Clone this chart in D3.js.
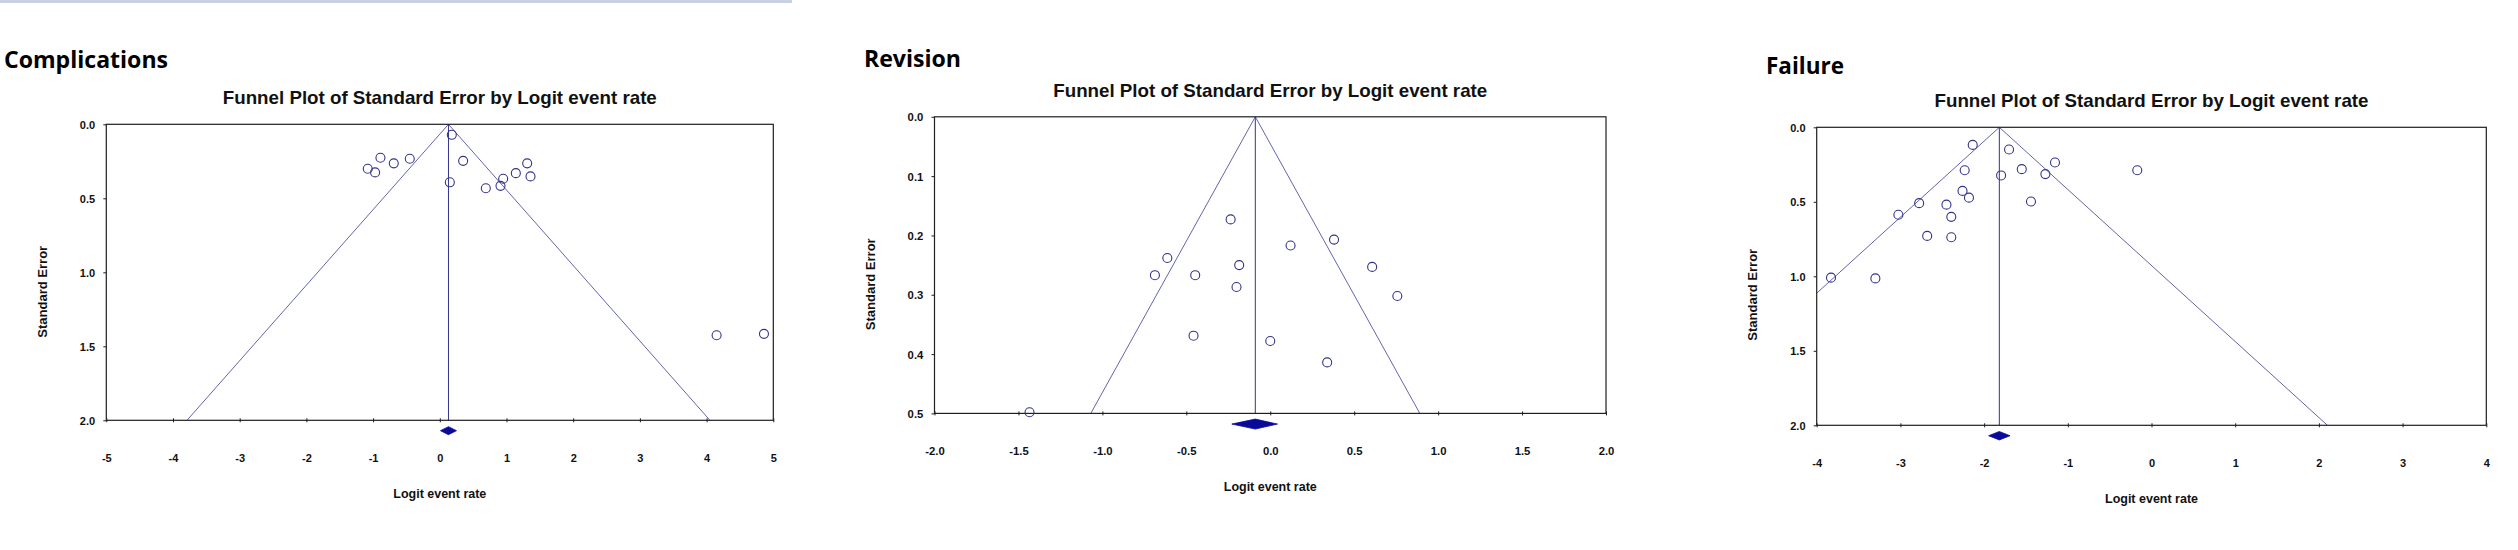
<!DOCTYPE html>
<html>
<head>
<meta charset="utf-8">
<script src="https://cdn.jsdelivr.net/npm/d3@7/dist/d3.min.js"></script>
<style>
  html, body { margin: 0; padding: 0; background: #ffffff; }
  svg { display: block; }
</style>
</head>
<body>
<svg id="chart" width="2518" height="550"></svg>
<script>
// ---------------- DATA ----------------
const sectionTitles = ["Complications", "Revision", "Failure"];
const plotTitle = "Funnel Plot of Standard Error by Logit event rate";
const xAxisTitle = "Logit event rate";
const yAxisTitle = "Standard Error";

// Complications
const complicationsX  = [0.18, -0.89, -1.08, -0.97, -0.69, -0.45, 0.35, 0.15, 0.69, 0.91, 0.95, 1.14, 1.31, 1.36, 4.15, 4.86];
const complicationsSE = [0.071, 0.226, 0.300, 0.325, 0.264, 0.233, 0.247, 0.392, 0.432, 0.416, 0.368, 0.330, 0.264, 0.352, 1.425, 1.416];

// Revision
const revisionX  = [-0.236, 0.380, 0.121, -0.613, -0.185, -0.687, -0.447, 0.607, -0.201, 0.757, -0.457, 0.000, 0.339, -1.434];
const revisionSE = [0.173, 0.207, 0.217, 0.238, 0.250, 0.267, 0.267, 0.253, 0.287, 0.302, 0.369, 0.378, 0.414, 0.498];

// Failure
const failureX  = [-2.136, -1.702, -1.153, -2.232, -1.550, -0.170, -1.797, -1.268, -2.258, -2.181, -1.440, -2.776, -2.450, -2.392, -3.024, -2.680, -2.392, -3.829, -3.299];
const failureSE = [0.118, 0.149, 0.236, 0.288, 0.281, 0.288, 0.323, 0.314, 0.427, 0.472, 0.498, 0.509, 0.519, 0.601, 0.587, 0.729, 0.738, 1.009, 1.014];

// pooled estimate (diamond) per panel
const pooledMean = [0.13, -0.089, -1.818];
const pooledLo   = [0.01, -0.229, -1.946];
const pooledHi   = [0.25, 0.043, -1.690];
const diamondSE  = [2.07, 0.518, 2.07];
const funnelZ = 1.96;

// axes
const xDomains = [[-5, 5], [-2, 2], [-4, 4]];
const yDomains = [[0, 2], [0, 0.5], [0, 2]];
const xTickValues = [
  [-5, -4, -3, -2, -1, 0, 1, 2, 3, 4, 5],
  [-2, -1.5, -1, -0.5, 0, 0.5, 1, 1.5, 2],
  [-4, -3, -2, -1, 0, 1, 2, 3, 4]
];
const xTickLabels = [
  ["-5", "-4", "-3", "-2", "-1", "0", "1", "2", "3", "4", "5"],
  ["-2.0", "-1.5", "-1.0", "-0.5", "0.0", "0.5", "1.0", "1.5", "2.0"],
  ["-4", "-3", "-2", "-1", "0", "1", "2", "3", "4"]
];
const yTickValues = [
  [0, 0.5, 1, 1.5, 2],
  [0, 0.1, 0.2, 0.3, 0.4, 0.5],
  [0, 0.5, 1, 1.5, 2]
];
const yTickLabels = [
  ["0.0", "0.5", "1.0", "1.5", "2.0"],
  ["0.0", "0.1", "0.2", "0.3", "0.4", "0.5"],
  ["0.0", "0.5", "1.0", "1.5", "2.0"]
];

const seriesX  = [complicationsX, revisionX, failureX];
const seriesSE = [complicationsSE, revisionSE, failureSE];

// ---------------- LAYOUT (pixels / styles) ----------------
const layout = [
  { left: 106.3, right: 773.3, top: 124.3, bottom: 420.3,
    secX: 4, secY: 68.3, secW: 164, tickFs: 11, diaH: 4 },
  { left: 934.5, right: 1606, top: 116.8, bottom: 413.4,
    secX: 864, secY: 66.8, secW: 97, tickFs: 11.3, diaH: 5 },
  { left: 1816.7, right: 2486.3, top: 127.3, bottom: 425.3,
    secX: 1766, secY: 74.3, secW: 78, tickFs: 11, diaH: 4.2 }
];

const C = {
  frame: "#1f1f1f",
  funnel: "#6464aa",
  meanLine: "#34348c",
  point: "#33338a",
  diamond: "#0a0a9a",
  text: "#111111"
};

const svg = d3.select("#chart");

// light top bar
svg.append("rect").attr("x", 0).attr("y", 0).attr("width", 792).attr("height", 3)
  .attr("fill", "#c8d0e1");

layout.forEach((L, i) => {
  const x = d3.scaleLinear().domain(xDomains[i]).range([L.left, L.right]);
  const y = d3.scaleLinear().domain(yDomains[i]).range([L.top, L.bottom]);
  const g = svg.append("g");

  // section title
  g.append("text")
    .attr("x", L.secX).attr("y", L.secY)
    .attr("font-family", "'Open Sans', 'Noto Sans', sans-serif")
    .attr("font-weight", 700).attr("font-size", 24)
    .attr("textLength", L.secW).attr("lengthAdjust", "spacingAndGlyphs")
    .attr("fill", "#000")
    .text(sectionTitles[i]);

  // plot title
  g.append("text")
    .attr("x", (L.left + L.right) / 2).attr("y", L.top - 20.2)
    .attr("text-anchor", "middle")
    .attr("font-family", "'Liberation Sans Narrow', 'Liberation Sans', Arial, sans-serif")
    .attr("font-weight", 700).attr("font-size", 18.5)
    .attr("textLength", 434).attr("lengthAdjust", "spacingAndGlyphs")
    .attr("fill", C.text)
    .text(plotTitle);

  // clip
  const clipId = "clip" + i;
  svg.append("clipPath").attr("id", clipId)
    .append("rect").attr("x", L.left).attr("y", L.top)
    .attr("width", L.right - L.left).attr("height", L.bottom - L.top);

  const seMax = yDomains[i][1];
  const m = pooledMean[i];
  const line = d3.line().x(d => x(d[0])).y(d => y(d[1]));

  // funnel lines
  g.append("path")
    .attr("clip-path", `url(#${clipId})`)
    .attr("d", line([[m - funnelZ * seMax, seMax], [m, 0], [m + funnelZ * seMax, seMax]]))
    .attr("fill", "none").attr("stroke", C.funnel).attr("stroke-width", 1);

  // mean vertical line
  g.append("path")
    .attr("d", line([[m, 0], [m, seMax]]))
    .attr("fill", "none").attr("stroke", C.meanLine).attr("stroke-width", 1);

  // frame
  g.append("rect")
    .attr("x", L.left).attr("y", L.top)
    .attr("width", L.right - L.left).attr("height", L.bottom - L.top)
    .attr("fill", "none").attr("stroke", C.frame).attr("stroke-width", 1.2);

  // x axis
  const xAxis = d3.axisBottom(x)
    .tickValues(xTickValues[i])
    .tickFormat((d, k) => xTickLabels[i][k])
    .tickSizeInner(2).tickSizeOuter(0);
  const gx = g.append("g").attr("transform", `translate(0,${L.bottom})`).call(xAxis);
  gx.select(".domain").remove();
  gx.selectAll(".tick line").attr("y1", -2).attr("stroke", C.frame);
  gx.selectAll(".tick text")
    .attr("y", 37.6).attr("dy", "0.36em")
    .attr("font-family", "'Liberation Sans', Arial, sans-serif")
    .attr("font-weight", 700).attr("font-size", L.tickFs)
    .attr("fill", C.text);

  // y axis
  const yAxis = d3.axisLeft(y)
    .tickValues(yTickValues[i])
    .tickFormat((d, k) => yTickLabels[i][k])
    .tickSizeInner(3).tickSizeOuter(0);
  const gy = g.append("g").attr("transform", `translate(${L.left},0)`).call(yAxis);
  gy.select(".domain").remove();
  gy.selectAll(".tick line").attr("stroke", C.frame);
  gy.selectAll(".tick text")
    .attr("x", -11.2).attr("dy", "0.36em")
    .attr("font-family", "'Liberation Sans', Arial, sans-serif")
    .attr("font-weight", 700).attr("font-size", L.tickFs)
    .attr("fill", C.text);

  // axis titles
  g.append("text")
    .attr("x", (L.left + L.right) / 2).attr("y", L.bottom + 73)
    .attr("dy", "0.36em").attr("text-anchor", "middle")
    .attr("font-family", "'Liberation Sans', Arial, sans-serif")
    .attr("font-weight", 700).attr("font-size", 12.5)
    .attr("textLength", 93).attr("lengthAdjust", "spacingAndGlyphs")
    .attr("fill", C.text)
    .text(xAxisTitle);

  const yl = { x: L.left - 64, y: L.top + 167.5 };
  g.append("text")
    .attr("transform", `translate(${yl.x},${yl.y}) rotate(-90)`)
    .attr("dy", "0.36em").attr("text-anchor", "middle")
    .attr("font-family", "'Liberation Sans', Arial, sans-serif")
    .attr("font-weight", 700).attr("font-size", 13)
    .attr("textLength", 92).attr("lengthAdjust", "spacingAndGlyphs")
    .attr("fill", C.text)
    .text(yAxisTitle);

  // points
  const pts = seriesX[i].map((v, k) => [v, seriesSE[i][k]]);
  g.append("g").selectAll("circle").data(pts).join("circle")
    .attr("cx", d => x(d[0])).attr("cy", d => y(d[1]))
    .attr("r", 4.5)
    .attr("fill", "none").attr("stroke", C.point).attr("stroke-width", 1.1);

  // pooled diamond
  const dy0 = y(diamondSE[i]);
  g.append("path")
    .attr("d", `M${x(pooledLo[i])},${dy0} L${x(m)},${dy0 - L.diaH} L${x(pooledHi[i])},${dy0} L${x(m)},${dy0 + L.diaH} Z`)
    .attr("fill", C.diamond).attr("stroke", C.diamond).attr("stroke-width", 0.8);
});
</script>
</body>
</html>
